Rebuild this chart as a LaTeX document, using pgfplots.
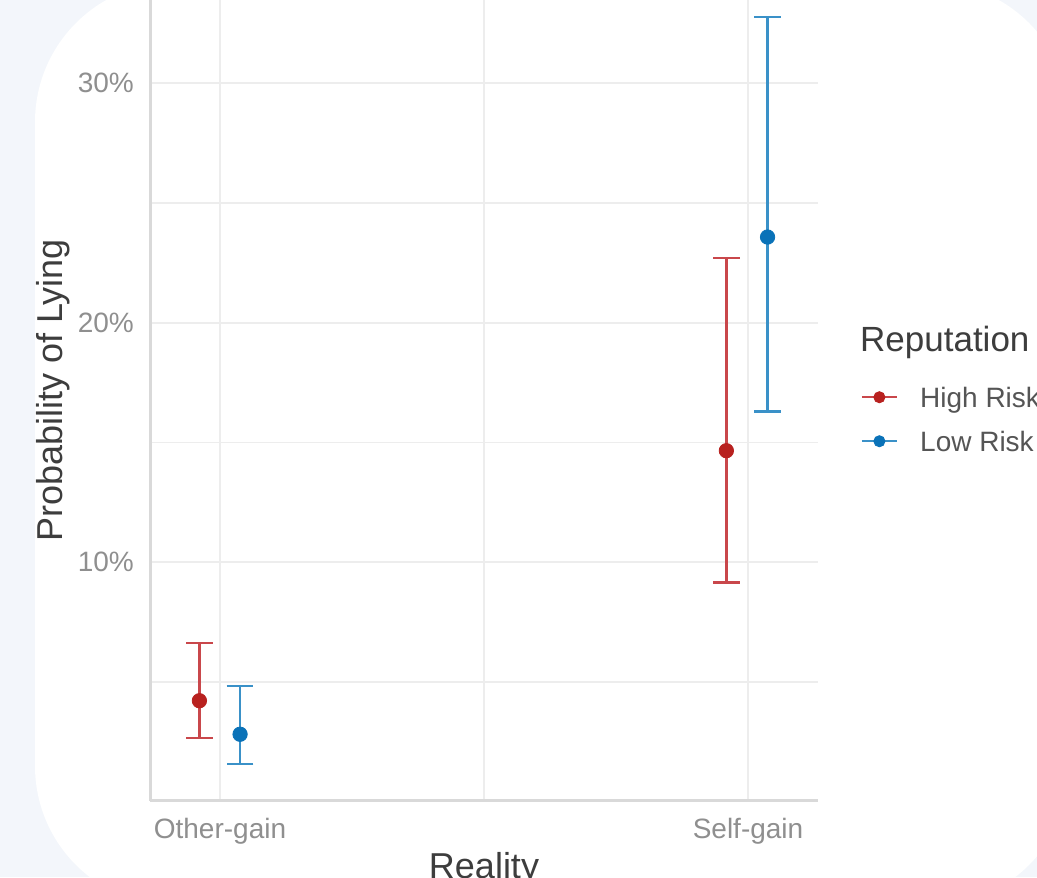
\documentclass[border=0pt]{standalone}
\usepackage{pgfplots}
\pgfplotsset{compat=1.18}
\usepackage{fontspec}
\setmainfont{Liberation Sans}
\definecolor{bg}{HTML}{F3F6FB}
\definecolor{redpt}{HTML}{B8211F}
\definecolor{redbar}{HTML}{C9474B}
\definecolor{bluept}{HTML}{0A72B8}
\definecolor{bluebar}{HTML}{3A91C8}
\definecolor{gridc}{HTML}{EDEDED}
\definecolor{axisc}{HTML}{D9D9D9}
\definecolor{tickc}{HTML}{8F8F8F}
\definecolor{titc}{HTML}{3D3D3D}
\definecolor{legc}{HTML}{555555}
\begin{document}
\begin{tikzpicture}
\useasboundingbox (0,0) rectangle (518.5pt,438.5pt);
\clip (0,0) rectangle (518.5pt,438.5pt);
\fill[bg] (0,0) rectangle (518.5pt,438.5pt);
\fill[white, rounded corners=70pt] (17.5pt,-14.5pt) rectangle (535pt,447.5pt);
\begin{axis}[
  at={(75.15pt,38.2pt)}, anchor=south west,
  scale only axis, width=333.7pt, height=410.15pt,
  xmin=0.868, xmax=2.132, ymin=0.05, ymax=34.3,
  axis x line*=bottom, axis y line*=left,
  axis line style={-, draw=axisc, line width=1.25pt},
  xtick={1,2}, xticklabels={Other-gain,Self-gain}, minor xtick={1.5},
  ytick={10,20,30}, yticklabels={10\%,20\%,30\%}, minor ytick={5,15,25},
  grid=both,
  major grid style={draw=gridc, line width=1.1pt},
  minor grid style={draw=gridc, line width=0.8pt},
  major tick length=0pt, minor tick length=0pt, tick style={draw=none},
  ticklabel style={font=\fontsize{14}{16}\selectfont, text=tickc, inner sep=0pt},
  yticklabel style={xshift=-8pt},
  xticklabel style={yshift=-8.7pt},
  xlabel={Reality}, ylabel={Probability of Lying},
  label style={font=\fontsize{18}{20}\selectfont, text=titc, inner sep=0pt},
  xlabel style={at={(axis description cs:0.5,-0.0944)}, anchor=base},
  ylabel style={at={(axis description cs:-0.1313,0.5)}, anchor=base},
  clip mode=individual,
  legend style={at={(rel axis cs:1.0644,0.4610)}, anchor=west, draw=none, fill=none,
    inner sep=0pt, outer sep=0pt, row sep=9pt, column sep=11pt,
    font=\fontsize{14}{16}\selectfont, text=legc,
    nodes={inner sep=0pt, text height=10pt, text depth=3pt}},
  legend cell align=left,
]
\addplot[only marks, mark=*, color=redpt, mark size=3.6pt,
  legend image code/.code={\draw[redbar, line width=1.1pt] (0pt,1.6pt) -- (17.65pt,1.6pt); \fill[redpt] (8.8pt,1.6pt) circle (2.8pt);},
  error bars/.cd, y dir=both, y explicit,
  error bar style={color=redbar, line width=1.2pt},
  error mark options={color=redbar, line width=1.2pt, mark size=6.67pt, rotate=90},
  ] coordinates {
  (0.961,4.22) += (0,2.40) -= (0,1.55)
  (1.959,14.66) += (0,8.04) -= (0,5.50)
};
\addlegendentry{High Risk}
\addplot[only marks, mark=*, color=bluept, mark size=3.6pt,
  legend image code/.code={\draw[bluebar, line width=1.1pt] (0pt,1.6pt) -- (17.65pt,1.6pt); \fill[bluept] (8.8pt,1.6pt) circle (2.8pt);},
  error bars/.cd, y dir=both, y explicit,
  error bar style={color=bluebar, line width=1.2pt},
  error mark options={color=bluebar, line width=1.2pt, mark size=6.67pt, rotate=90},
  ] coordinates {
  (1.038,2.82) += (0,2.01) -= (0,1.24)
  (2.037,23.58) += (0,9.19) -= (0,7.29)
};
\addlegendentry{Low Risk}
\node[anchor=base west, font=\fontsize{17.5}{19}\selectfont, text=titc, inner sep=0pt] at (rel axis cs:1.063,0.5472) {Reputation};
\end{axis}
\end{tikzpicture}
\end{document}
